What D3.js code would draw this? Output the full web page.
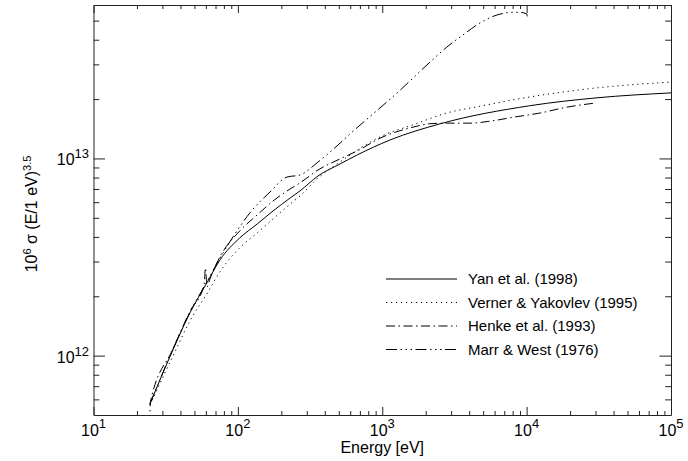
<!DOCTYPE html>
<html>
<head>
<meta charset="utf-8">
<script src="https://cdn.jsdelivr.net/npm/d3@7"></script>
<style>
  body { margin: 0; background: #fff; }
  #chart text { font-family: 'Liberation Sans', Arial, Helvetica, sans-serif; fill: #000; }
</style>
</head>
<body>
<div id="chart"></div>
<script>
// Photoionisation data: energy in eV, 10^6 sigma (E/1 eV)^3.5
const energyYan = [24.6, 35.5, 46.6, 62, 75, 103, 136, 175, 230, 269, 359, 509, 668, 1130, 2530, 10500, 30700, 100000];
const sigmaYan = [5.69e11, 1.07e12, 1.65e12, 2.39e12, 3.05e12, 3.95e12, 4.65e12, 5.41e12, 6.30e12, 6.84e12, 8.15e12, 9.37e12, 1.04e13, 1.24e13, 1.50e13, 1.85e13, 2.03e13, 2.15e13];

const energyVerner = [24.6, 35.5, 46.6, 62, 75, 103, 136, 175, 230, 269, 359, 509, 668, 995, 1630, 2800, 4750, 10500, 30700, 100000];
const sigmaVerner = [5.62e11, 9.96e11, 1.50e12, 2.10e12, 2.66e12, 3.52e12, 4.19e12, 4.93e12, 5.87e12, 6.45e12, 7.96e12, 9.59e12, 1.10e13, 1.30e13, 1.48e13, 1.70e13, 1.84e13, 2.05e13, 2.28e13, 2.44e13];

const energyHenke = [24.6, 24.7, 35.5, 46.6, 58.3, 59.7, 61.1, 64.1, 75, 103, 136, 175, 230, 269, 359, 509, 668, 995, 1630, 2140, 2800, 4050, 5750, 8170, 12400, 19000, 30000];
const sigmaHenke = [4.5e11, 5.75e11, 1.08e12, 1.68e12, 2.28e12, 2.78e12, 2.23e12, 2.45e12, 3.16e12, 4.29e12, 5.17e12, 6.08e12, 7.0e12, 7.51e12, 8.74e12, 9.94e12, 1.09e13, 1.28e13, 1.44e13, 1.50e13, 1.51e13, 1.51e13, 1.55e13, 1.62e13, 1.70e13, 1.82e13, 1.91e13];

const energyMarr = [24.6, 35.5, 46.6, 62, 75, 92.5, 121, 167, 219, 269, 359, 668, 1330, 2140, 2800, 3620, 4750, 6230, 8040, 8990, 10050, 10100];
const sigmaMarr = [5.69e11, 1.08e12, 1.66e12, 2.42e12, 3.12e12, 4.0e12, 5.29e12, 6.76e12, 8.05e12, 8.24e12, 9.59e12, 1.43e13, 2.22e13, 3.08e13, 3.67e13, 4.23e13, 4.86e13, 5.34e13, 5.51e13, 5.51e13, 5.40e13, 5.25e13];

const legendLabels = ['Yan et al. (1998)', 'Verner & Yakovlev (1995)', 'Henke et al. (1993)', 'Marr & West (1976)'];
const xMajor = [1e1, 1e2, 1e3, 1e4, 1e5];
const yMajor = [1e12, 1e13];

const series = [
  { name: legendLabels[0], e: energyYan, s: sigmaYan, dash: null },
  { name: legendLabels[1], e: energyVerner, s: sigmaVerner, dash: '1.2,3.8' },
  { name: legendLabels[2], e: energyHenke, s: sigmaHenke, dash: '9,3.5,1.5,3.5' },
  { name: legendLabels[3], e: energyMarr, s: sigmaMarr, dash: '11,3.5,1.5,3.5,1.5,3.5,1.5,3.5' }
];

const width = 688;
const height = 461;
const plot = { left: 93.5, right: 671, top: 5, bottom: 415 };

const svg = d3.select('#chart')
  .append('svg')
  .attr('width', width)
  .attr('height', height);

const x = d3.scaleLog().domain([10, 1e5]).range([plot.left, plot.right]);
const y = d3.scaleLog().domain([5e11, 6e13]).range([plot.bottom, plot.top]);

// minor ticks 2..9 per decade
const minorOf = (lo, hi) => {
  const out = [];
  for (let p = lo; p < hi; p++) {
    for (let k = 2; k <= 9; k++) out.push(k * Math.pow(10, p));
  }
  return out;
};
const xMinor = minorOf(1, 5);
const yMinor = minorOf(11, 14).filter(v => v > 5e11 && v < 6e13);

const axisColor = '#222';

function drawAxis(axisFn, scale, transform, major, minor, majorLen, minorLen) {
  const gMaj = svg.append('g').attr('transform', transform)
    .call(axisFn(scale).tickValues(major).tickSize(-majorLen).tickSizeOuter(0).tickFormat(''));
  const gMin = svg.append('g').attr('transform', transform)
    .call(axisFn(scale).tickValues(minor).tickSize(-minorLen).tickSizeOuter(0).tickFormat(''));
  gMin.select('.domain').remove();
  [gMaj, gMin].forEach(g => {
    g.selectAll('path, line').attr('stroke', axisColor);
  });
}

drawAxis(d3.axisBottom, x, `translate(0,${plot.bottom})`, xMajor, xMinor, 8, 4);
drawAxis(d3.axisTop, x, `translate(0,${plot.top})`, xMajor, xMinor, 8, 4);
drawAxis(d3.axisLeft, y, `translate(${plot.left},0)`, yMajor, yMinor, 11.5, 5.8);
drawAxis(d3.axisRight, y, `translate(${plot.right},0)`, yMajor, yMinor, 11.5, 5.8);

// tick labels with superscript exponents
xMajor.forEach(v => {
  const t = svg.append('text')
    .attr('x', x(v))
    .attr('y', 436)
    .attr('text-anchor', 'middle')
    .style('font-size', '16px');
  t.append('tspan').text('10');
  t.append('tspan').attr('dy', -8).style('font-size', '13px').text(Math.round(Math.log10(v)));
});

yMajor.forEach(v => {
  const t = svg.append('text')
    .attr('x', 89)
    .attr('y', y(v) + 7)
    .attr('text-anchor', 'end')
    .style('font-size', '16px');
  t.append('tspan').text('10');
  t.append('tspan').attr('dy', -7).style('font-size', '13px').text(Math.round(Math.log10(v)));
});

// axis titles
svg.append('text')
  .attr('x', x(1e3))
  .attr('y', 453)
  .attr('text-anchor', 'middle')
  .style('font-size', '16px')
  .text('Energy [eV]');

const yt = svg.append('text')
  .attr('transform', `translate(37,${(plot.top + plot.bottom) / 2 + 4}) rotate(-90)`)
  .attr('text-anchor', 'middle')
  .style('font-size', '16px');
yt.append('tspan').text('10');
yt.append('tspan').attr('dy', -6).style('font-size', '11px').text('6');
yt.append('tspan').attr('dy', 6).text(' σ (E/1 eV)');
yt.append('tspan').attr('dy', -6).style('font-size', '11px').text('3.5');

// curves
svg.append('clipPath').attr('id', 'plot-clip')
  .append('rect')
  .attr('x', plot.left).attr('y', plot.top)
  .attr('width', plot.right - plot.left).attr('height', plot.bottom - plot.top);

const line = d3.line()
  .x(d => x(d[0]))
  .y(d => y(d[1]))
  .curve(d3.curveMonotoneX);

const curves = svg.append('g').attr('clip-path', 'url(#plot-clip)');

series.forEach(sr => {
  const pts = sr.e.map((e, i) => [e, sr.s[i]]);
  curves.append('path')
    .attr('d', line(pts))
    .attr('fill', 'none')
    .attr('stroke', '#000')
    .attr('stroke-width', 1)
    .attr('stroke-dasharray', sr.dash);
});

// legend
const legend = svg.append('g');
const rowY = [279, 302.5, 326, 349.5];
series.forEach((sr, i) => {
  legend.append('line')
    .attr('x1', 386).attr('x2', 457)
    .attr('y1', rowY[i]).attr('y2', rowY[i])
    .attr('stroke', '#000')
    .attr('stroke-width', 1)
    .attr('stroke-dasharray', sr.dash);
  legend.append('text')
    .attr('x', 468)
    .attr('y', rowY[i] + 5)
    .style('font-size', '15px')
    .text(sr.name);
});
</script>
</body>
</html>
